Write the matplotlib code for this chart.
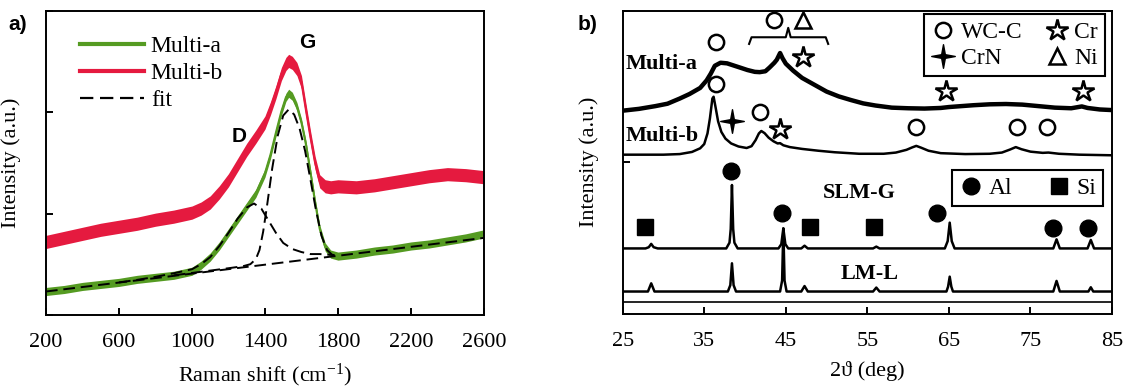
import numpy as np
import matplotlib
matplotlib.use("Agg")
import matplotlib.pyplot as plt
from matplotlib.lines import Line2D
from matplotlib.path import Path

plt.rcParams["font.family"] = ["Liberation Serif", "DejaVu Serif"]
plt.rcParams["mathtext.fontset"] = "custom"
plt.rcParams["mathtext.rm"] = "Liberation Serif"
plt.rcParams["mathtext.it"] = "Liberation Serif:italic"
plt.rcParams["font.size"] = 16

# ---------- a) Raman spectra (values read off the figure) ----------
raman_shift = [200, 300, 400, 500, 600, 700, 800, 900, 1000, 1050, 1100, 1150, 1200,
               1250, 1300, 1350, 1400, 1430, 1460, 1490, 1515, 1530, 1550, 1575, 1600,
               1625, 1650, 1675, 1700, 1730, 1760, 1800, 1900, 2000, 2100, 2200, 2300,
               2400, 2500, 2600]
multi_a_raman = [0.23, 0.25, 0.28, 0.30, 0.32, 0.35, 0.37, 0.39, 0.43, 0.49, 0.57, 0.68, 0.81,
                 0.94, 1.07, 1.20, 1.40, 1.58, 1.80, 2.01, 2.15, 2.19, 2.16, 2.06, 1.90,
                 1.68, 1.40, 1.11, 0.85, 0.67, 0.60, 0.58, 0.60, 0.63, 0.65, 0.68, 0.70,
                 0.73, 0.76, 0.80]
multi_b_raman = [0.72, 0.76, 0.80, 0.84, 0.87, 0.90, 0.94, 0.97, 1.01, 1.05, 1.11, 1.21, 1.33,
                 1.48, 1.63, 1.76, 1.90, 2.04, 2.20, 2.38, 2.48, 2.51, 2.49, 2.43, 2.30,
                 2.02, 1.75, 1.50, 1.32, 1.27, 1.26, 1.27, 1.26, 1.28, 1.31, 1.34, 1.37,
                 1.39, 1.38, 1.36]

# fit components (each includes the linear background)
base_shift = [200, 2600]
base_fit = [0.23, 0.76]
d_shift = [600, 700, 800, 900, 1000, 1050, 1100, 1150, 1200, 1250, 1300, 1340, 1380,
           1420, 1460, 1500, 1550, 1600, 1650, 1700, 1780]
d_fit = [0.32, 0.345, 0.375, 0.41, 0.45, 0.50, 0.57, 0.68, 0.81, 0.95, 1.06, 1.10, 1.05,
         0.93, 0.81, 0.71, 0.65, 0.62, 0.60, 0.60, 0.59]
g_shift = [900, 1200, 1280, 1320, 1350, 1370, 1390, 1410, 1440, 1470, 1500, 1530, 1560,
           1590, 1620, 1650, 1680, 1710, 1740, 1770, 1800]
g_fit = [0.39, 0.46, 0.48, 0.50, 0.55, 0.64, 0.82, 1.06, 1.45, 1.77, 1.97, 2.03, 1.98,
         1.84, 1.62, 1.33, 1.03, 0.78, 0.64, 0.59, 0.58]

# ---------- b) XRD patterns ----------
multi_a_2t = [25, 27, 29, 30.5, 32, 33.2, 34.5, 35.3, 35.8, 36.3, 37.0, 37.8, 38.6, 39.4,
              40.3, 41.2, 41.8, 42.5, 43.0, 43.6, 43.9, 44.3, 44.6, 45.0, 45.9, 47.0,
              48.0, 49.0, 50.0, 51.5, 53.0, 54.5, 56.0, 58.0, 60.0, 62.0, 64.0, 65.0,
              66.5, 68.0, 70.0, 72.0, 74.0, 76.0, 78.0, 80.0, 81.3, 82.0, 83.5, 85.0]
multi_a_xrd = [67.0, 67.6, 68.5, 69.3, 71.0, 72.5, 74.5, 77.0, 79.2, 81.8, 82.8, 82.6, 81.9,
               81.2, 80.4, 79.8, 79.7, 80.0, 81.2, 82.8, 83.8, 86.0, 84.3, 82.5, 80.2, 77.8,
               76.3, 74.8, 73.3, 71.7, 70.5, 69.4, 68.7, 68.0, 67.8, 67.7, 67.9, 68.2,
               68.5, 68.8, 69.1, 69.2, 69.0, 68.5, 68.0, 67.8, 68.4, 67.9, 67.4, 67.2]
multi_b_2t = [25, 30, 32, 33.5, 34.5, 35.0, 35.4, 35.7, 36.0, 36.15, 36.4, 36.7, 37.1, 37.6,
              38.3, 39.2, 40.2, 40.8, 41.3, 41.7, 42.0, 42.4, 42.9, 43.5, 44.0, 44.3, 44.7,
              45.5, 47.0, 49.0, 51.0, 54.0, 57.0, 58.5, 59.8, 60.5, 61.0, 61.6, 62.5, 64.0,
              67.0, 70.0, 71.5, 72.5, 73.2, 73.9, 75.0, 76.5, 77.2, 78.5, 81.0, 85.0]
multi_b_xrd = [52.5, 52.5, 52.7, 53.4, 54.6, 56.0, 59.5, 64.5, 71.0, 71.6, 68.0, 63.5, 60.0,
               57.8, 56.2, 55.2, 54.7, 55.3, 57.3, 59.5, 60.3, 59.6, 58.1, 56.9, 56.2, 56.3,
               55.6, 55.0, 54.4, 53.8, 53.3, 52.8, 52.8, 53.2, 54.1, 54.9, 55.4, 54.8, 53.8,
               53.0, 52.7, 52.8, 53.2, 54.2, 55.0, 54.3, 53.5, 53.1, 53.2, 52.8, 52.5, 52.3]
slm_g_2t = [25.0, 27.8, 28.2, 28.5, 28.8, 29.3, 37.7, 38.1, 38.25, 38.4, 38.55, 38.7, 39.1,
            44.1, 44.45, 44.7, 44.95, 45.3, 46.9, 47.3, 47.7, 55.7, 56.1, 56.5, 64.5,
            64.85, 65.1, 65.35, 65.7, 77.8, 78.2, 78.6, 82.0, 82.4, 82.8, 85.0]
slm_g_xrd = [21.6, 21.6, 22.0, 23.1, 22.0, 21.6, 21.6, 23.5, 28.0, 42.5, 28.0, 23.5, 21.6,
             21.6, 23.0, 28.2, 23.0, 21.6, 21.6, 22.5, 21.6, 21.6, 22.2, 21.6, 21.6,
             24.0, 30.1, 24.0, 21.6, 21.6, 24.6, 21.6, 21.6, 24.4, 21.6, 21.6]
lm_l_2t = [25.0, 28.1, 28.5, 28.9, 37.9, 38.2, 38.4, 38.6, 38.9, 44.3, 44.55, 44.7, 44.85,
           45.1, 46.9, 47.3, 47.7, 55.7, 56.1, 56.5, 64.7, 64.9, 65.1, 65.3, 65.5, 77.8,
           78.2, 78.6, 82.1, 82.4, 82.7, 85.0]
lm_l_xrd = [7.4, 7.4, 10.1, 7.4, 7.4, 9.5, 16.7, 9.5, 7.4, 7.4, 11.0, 28.2, 11.0,
            7.4, 7.4, 9.2, 7.4, 7.4, 8.7, 7.4, 7.4, 9.0, 12.3, 9.0, 7.4, 7.4,
            10.9, 7.4, 7.4, 8.8, 7.4, 7.4]

# phase markers
wcc_x = [36.5, 43.6, 36.5, 41.8, 61.0, 73.3, 77.0]
wcc_y = [89.6, 97.0, 75.8, 66.5, 61.5, 61.5, 61.5]
cr_x = [47.1, 64.7, 81.4, 44.3]
cr_y = [84.6, 73.6, 73.6, 61.0]
crn_x = [38.4]
crn_y = [63.7]
ni_x = [47.1]
ni_y = [97.0]
al_x = [38.3, 44.5, 63.6, 77.8, 82.1]
al_y = [47.0, 33.2, 33.3, 28.4, 28.4]
si_x = [27.7, 48.0, 55.8]
si_y = [28.6, 28.6, 28.6]
bracket_x = [40.5, 40.8, 45.0, 45.3, 45.6, 49.9, 50.2]
bracket_y = [89.0, 91.2, 91.2, 94.3, 91.2, 91.2, 89.0]

GREEN = "#559b22"
RED = "#e51a3f"
GREEN_BAND = 0.04
RED_BAND = 0.065

fig = plt.figure(figsize=(11.27, 3.91), dpi=100)
ax1 = fig.add_axes([0.0408, 0.195, 0.3886, 0.776])
ax2 = fig.add_axes([0.5525, 0.197, 0.4342, 0.776])

# ---------- panel a ----------
ma = np.array(multi_a_raman)
mb = np.array(multi_b_raman)
ax1.fill_between(raman_shift, mb - RED_BAND, mb + RED_BAND, color=RED, lw=0)
ax1.plot(raman_shift, mb, color=RED, lw=1.5)
ax1.fill_between(raman_shift, ma - GREEN_BAND, ma + GREEN_BAND, color=GREEN, lw=0)
ax1.plot(raman_shift, ma, color=GREEN, lw=1.5)
for xs, ys in [(base_shift, base_fit), (d_shift, d_fit), (g_shift, g_fit)]:
    ax1.plot(xs, ys, color="k", lw=1.4, dashes=(6, 3))

ax1.set_xlim(200, 2600)
ax1.set_ylim(0, 3)
ax1.set_xticks(range(200, 2601, 400))
ax1.set_yticks([0, 1, 2, 3])
ax1.set_yticklabels([])
ax1.set_xlabel("Raman shift (cm$^{-1}$)", labelpad=7)
ax1.set_ylabel("Intensity (a.u.)", labelpad=5)
ax1.text(1630, 2.69, "G", family="Liberation Sans", weight="bold", fontsize=15,
         ha="center", va="center")
ax1.text(1258, 1.76, "D", family="Liberation Sans", weight="bold", fontsize=15,
         ha="center", va="center")

h_a = [Line2D([], [], color=GREEN, lw=3, label="Multi-a"),
       Line2D([], [], color=RED, lw=3, label="Multi-b"),
       Line2D([], [], color="k", lw=1.6, dashes=(6, 3), label="fit")]
ax1.legend(handles=h_a, loc="upper left", bbox_to_anchor=(0.056, 0.95), frameon=False,
           handlelength=2.7, handletextpad=0.3, labelspacing=0.22, borderpad=0.4,
           borderaxespad=0, fontsize=17)

# ---------- panel b ----------
ax2.plot(multi_a_2t, multi_a_xrd, color="k", lw=3.2)
ax2.plot(multi_b_2t, multi_b_xrd, color="k", lw=1.8)
ax2.plot(slm_g_2t, slm_g_xrd, color="k", lw=1.8)
ax2.plot(lm_l_2t, lm_l_xrd, color="k", lw=1.8)
ax2.axhline(3.8, color="k", lw=1.2)

star4 = Path.unit_regular_star(4, 0.22)
open_kw = dict(ls="none", mfc="white", mec="k", mew=1.8)
ax2.plot(wcc_x, wcc_y, marker="o", ms=11, **open_kw)
ax2.plot(cr_x, cr_y, marker="*", ms=16, **open_kw)
ax2.plot(ni_x, ni_y, marker="^", ms=11, **open_kw)
ax2.plot(crn_x, crn_y, marker=star4, ms=17, ls="none", color="k")
ax2.plot(al_x, al_y, marker="o", ms=12, ls="none", color="k")
ax2.plot(si_x, si_y, marker="s", ms=11, ls="none", color="k")
ax2.plot(bracket_x, bracket_y, color="k", lw=1.5)

bold = dict(weight="bold", fontsize=16, va="center")
ax2.text(25.3, 82.4, "Multi-a", ha="left", **bold)
ax2.text(25.3, 58.8, "Multi-b", ha="left", **bold)
ax2.text(54.0, 39.8, "SLM-G", ha="center", **bold)
ax2.text(55.3, 13.2, "LM-L", ha="center", **bold)

ax2.set_xlim(25, 85)
ax2.set_ylim(0, 100)
ax2.set_xticks(range(25, 86, 10))
ax2.set_yticks([0, 50, 100])
ax2.set_yticklabels([])
ax2.set_xlabel("2\u03d1 (deg)", labelpad=7)
ax2.set_ylabel("Intensity (a.u.)", labelpad=4)

leg_kw = dict(ncol=2, loc="upper left", mode="expand", frameon=True, fancybox=False,
              edgecolor="k", framealpha=1, borderaxespad=0, fontsize=17,
              handlelength=1.0, handletextpad=0.25, labelspacing=0.2, borderpad=0.3)
h_b1 = [Line2D([], [], marker="o", ms=11, **open_kw, label="WC-C"),
        Line2D([], [], marker=star4, ms=17, ls="none", color="k", label="CrN"),
        Line2D([], [], marker="*", ms=16, **open_kw, label="Cr"),
        Line2D([], [], marker="^", ms=11, **open_kw, label="Ni")]
leg1 = ax2.legend(handles=h_b1, bbox_to_anchor=(0.616, 0.70, 0.370, 0.288), **leg_kw)
leg1.get_frame().set_linewidth(1.5)
ax2.add_artist(leg1)
h_b2 = [Line2D([], [], marker="o", ms=12, ls="none", color="k", label="Al"),
        Line2D([], [], marker="s", ms=11, ls="none", color="k", label="Si")]
leg2 = ax2.legend(handles=h_b2, bbox_to_anchor=(0.673, 0.30, 0.309, 0.173), **leg_kw)
leg2.get_frame().set_linewidth(1.5)

for ax in (ax1, ax2):
    for s in ax.spines.values():
        s.set_linewidth(1.4)
    ax.tick_params(direction="in", length=5, width=1.4, top=False, right=False, pad=13)

fig.text(18 / 1127, 1 - 25 / 391, "a)", family="Liberation Sans", weight="bold",
         fontsize=15, ha="center", va="center")
fig.text(588 / 1127, 1 - 25 / 391, "b)", family="Liberation Sans", weight="bold",
         fontsize=15, ha="center", va="center")

fig.savefig("out.png", dpi=100)
